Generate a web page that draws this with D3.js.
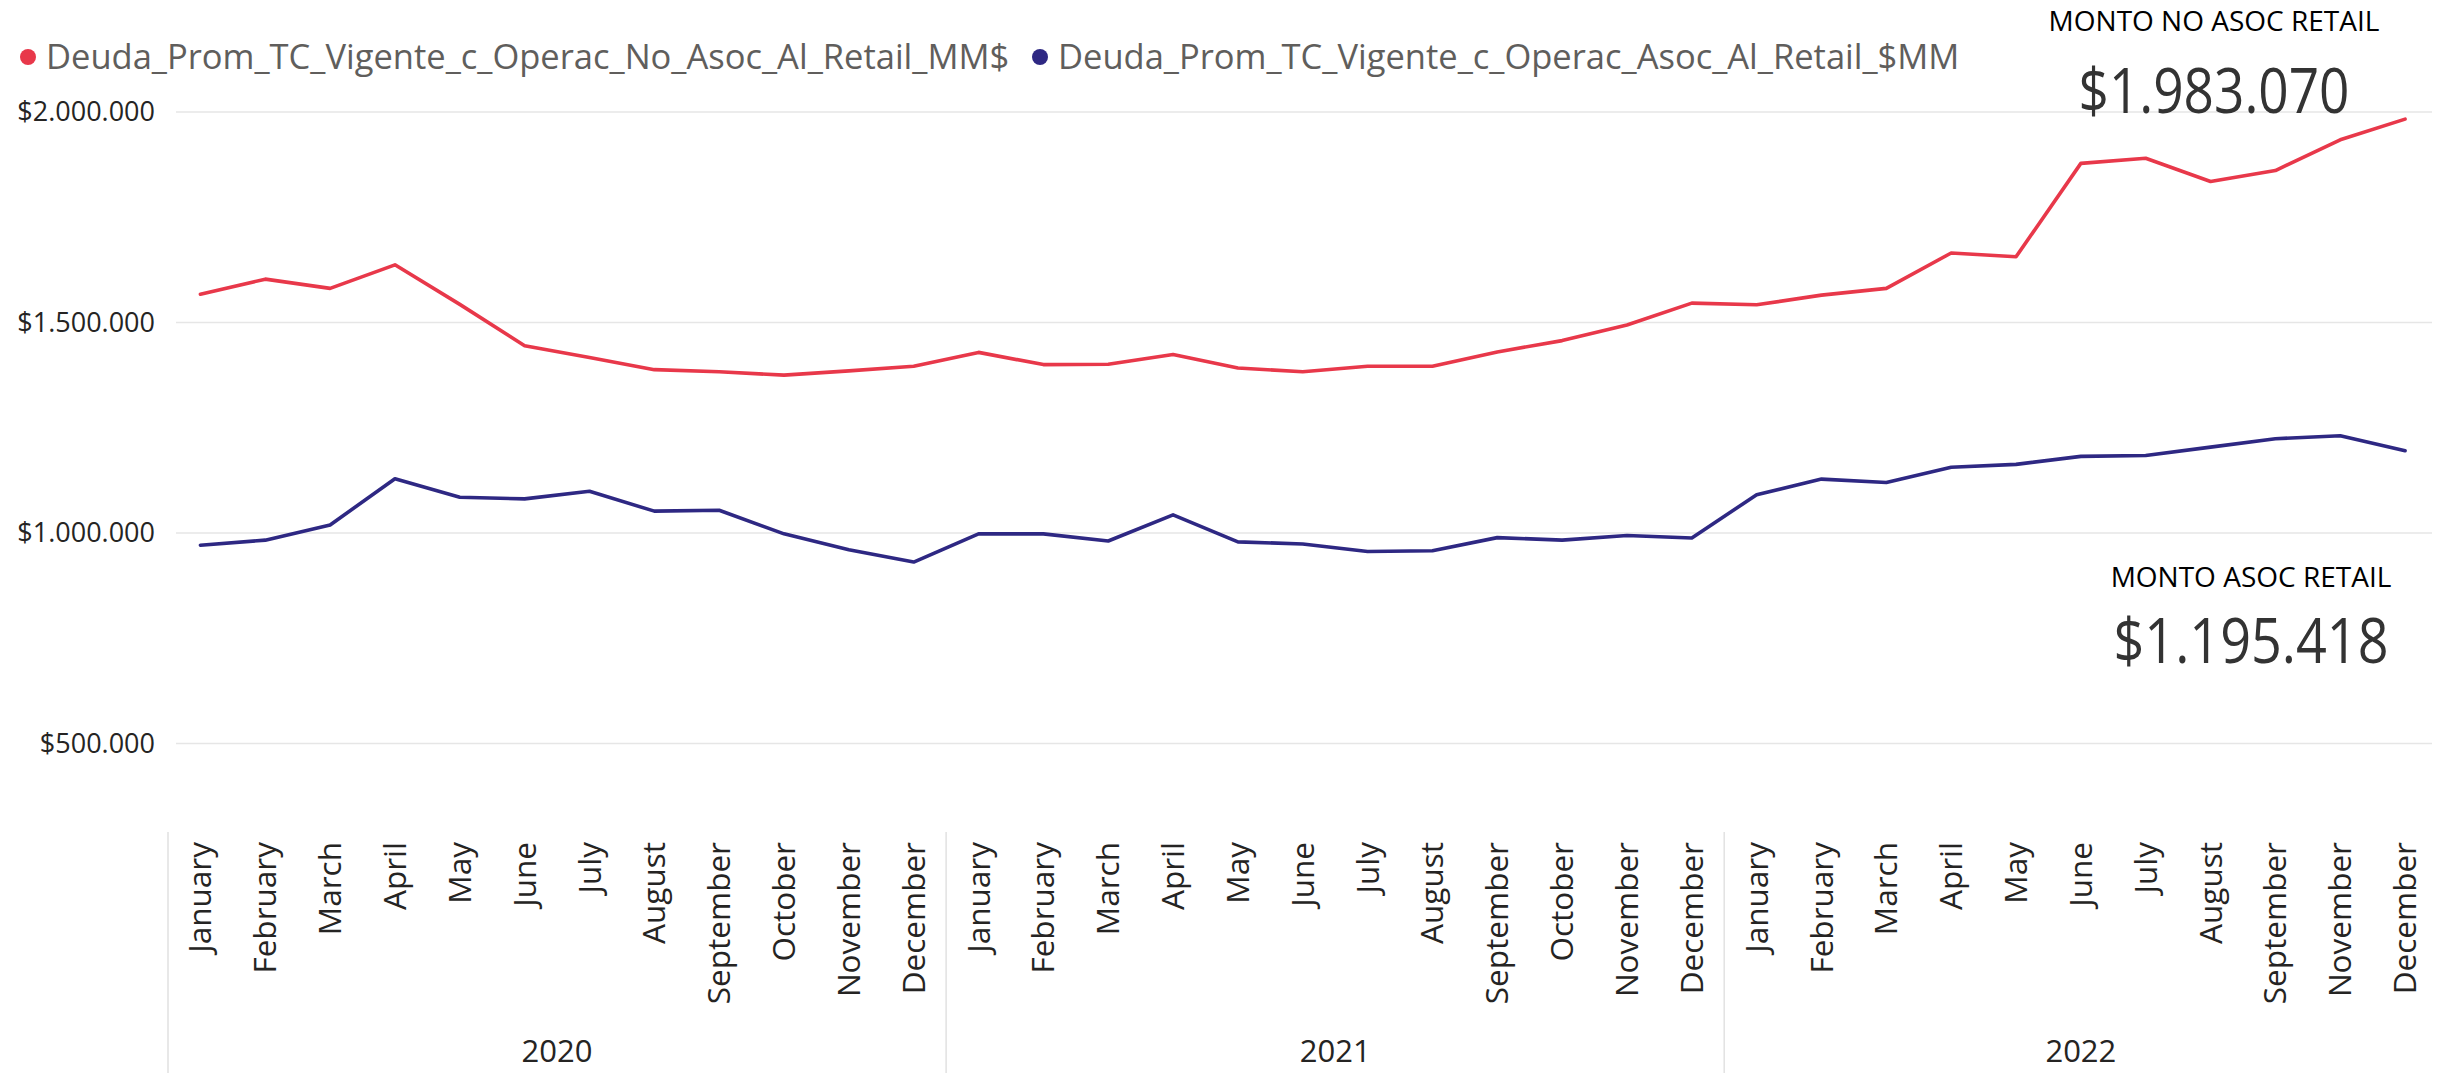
<!DOCTYPE html>
<html>
<head>
<meta charset="utf-8">
<script src="https://cdn.jsdelivr.net/npm/d3@7"></script>
<style>
  html, body { margin: 0; padding: 0; background: #ffffff; }
  svg { display: block; }
  text { font-family: "Open Sans", "Noto Sans", sans-serif; }
</style>
</head>
<body>
<svg id="chart" width="2445" height="1073"></svg>
<script>
// ---------------- DATA ----------------
const years = ["2020", "2021", "2022"];
const monthsByYear = [
  ["January","February","March","April","May","June","July","August","September","October","November","December"],
  ["January","February","March","April","May","June","July","August","September","October","November","December"],
  ["January","February","March","April","May","June","July","August","September","November","December"]
];
const seriesNames = [
  "Deuda_Prom_TC_Vigente_c_Operac_No_Asoc_Al_Retail_MM$",
  "Deuda_Prom_TC_Vigente_c_Operac_Asoc_Al_Retail_$MM"
];
const noAsocValues = [
  1567000, 1603000, 1581000, 1637000, 1543000, 1445000, 1417000, 1388000, 1383000, 1375000, 1385000, 1396000,
  1429000, 1400000, 1401000, 1424000, 1392000, 1383000, 1396000, 1396000, 1430000, 1457000, 1494000, 1546000,
  1542000, 1565000, 1581000, 1665000, 1656000, 1878000, 1890000, 1835000, 1861000, 1934000, 1983070
];
const asocValues = [
  971000, 983000, 1019000, 1129000, 1085000, 1081000, 1099000, 1052000, 1054000, 998000, 960000, 931000,
  998000, 998000, 981000, 1043000, 979000, 974000, 956000, 958000, 989000, 983000, 994000, 988000,
  1091000, 1128000, 1120000, 1156000, 1163000, 1182000, 1184000, 1204000, 1224000, 1231000, 1195418
];
const yTicks = [500000, 1000000, 1500000, 2000000];
const yTickLabels = ["$500.000", "$1.000.000", "$1.500.000", "$2.000.000"];
const kpiTitles = ["MONTO NO ASOC RETAIL", "MONTO ASOC RETAIL"];
const kpiValues = ["$1.983.070", "$1.195.418"];

// ---------------- BUILD ----------------
const categories = [];
monthsByYear.forEach((ms, yi) => ms.forEach(m => categories.push({ key: years[yi] + "-" + m, month: m, year: years[yi] })));

const colors = ["#E8384A", "#2E2883"];
const svg = d3.select("#chart");

const x = d3.scaleBand().domain(categories.map(d => d.key)).range([168, 2437.5]).padding(0);
const y = d3.scaleLinear().domain([500000, 2000000]).range([743.5, 112]);
const cx = k => x(k) + x.bandwidth() / 2;

// gridlines
svg.append("g").selectAll("line").data(yTicks).join("line")
  .attr("x1", 176).attr("x2", 2432)
  .attr("y1", d => y(d)).attr("y2", d => y(d))
  .attr("stroke", "#e6e6e6").attr("stroke-width", 1.6);

// y tick labels
svg.append("g").selectAll("text").data(yTicks).join("text")
  .attr("x", 155).attr("y", d => y(d)).attr("dy", "0.35em")
  .attr("text-anchor", "end").attr("font-size", 27).attr("fill", "#252423")
  .text((d, i) => yTickLabels[i]);

// lines
const line = d3.line().x((d, i) => cx(categories[i].key)).y(d => y(d));
[noAsocValues, asocValues].forEach((vals, si) => {
  svg.append("path").datum(vals)
    .attr("d", line).attr("fill", "none")
    .attr("stroke", colors[si]).attr("stroke-width", 3.6)
    .attr("stroke-linejoin", "round").attr("stroke-linecap", "round");
});

// month labels
svg.append("g").selectAll("text").data(categories).join("text")
  .attr("transform", d => `translate(${cx(d.key)},842) rotate(-90)`)
  .attr("text-anchor", "end").attr("dy", "0.35em")
  .attr("font-size", 31.5).attr("fill", "#252423")
  .text(d => d.month);

// year separators and labels
const yearGroups = years.map((yr, yi) => {
  const keys = categories.filter(c => c.year === yr).map(c => c.key);
  return { year: yr, start: x(keys[0]), end: x(keys[keys.length - 1]) + x.bandwidth() };
});
svg.append("g").selectAll("line").data(yearGroups).join("line")
  .attr("x1", d => d.start).attr("x2", d => d.start)
  .attr("y1", 832).attr("y2", 1073)
  .attr("stroke", "#e3e3e3").attr("stroke-width", 1.6);
svg.append("g").selectAll("text").data(yearGroups).join("text")
  .attr("x", d => (d.start + d.end) / 2).attr("y", 1062)
  .attr("text-anchor", "middle").attr("font-size", 31).attr("fill", "#252423")
  .text(d => d.year);

// legend
const legendX = [28, 1040];
seriesNames.forEach((name, i) => {
  svg.append("circle").attr("cx", legendX[i]).attr("cy", 57).attr("r", 8).attr("fill", colors[i]);
  svg.append("text").attr("x", legendX[i] + 18).attr("y", 69)
    .attr("font-size", 34.5).attr("fill", "#605E5C").text(name);
});

// KPI cards
const kpiPos = [
  { cx: 2214, ty: 31, vy: 113, w: 271 },
  { cx: 2251, ty: 587, vy: 663, w: 275 }
];
kpiPos.forEach((p, i) => {
  svg.append("text").attr("x", p.cx).attr("y", p.ty).attr("text-anchor", "middle")
    .attr("font-size", 28).attr("fill", "#000000").text(kpiTitles[i]);
  svg.append("text").attr("x", p.cx).attr("y", p.vy).attr("text-anchor", "middle")
    .attr("font-family", "Roboto, sans-serif").attr("font-size", 62).attr("fill", "#333333")
    .attr("textLength", p.w).attr("lengthAdjust", "spacingAndGlyphs")
    .text(kpiValues[i]);
});
</script>
</body>
</html>
